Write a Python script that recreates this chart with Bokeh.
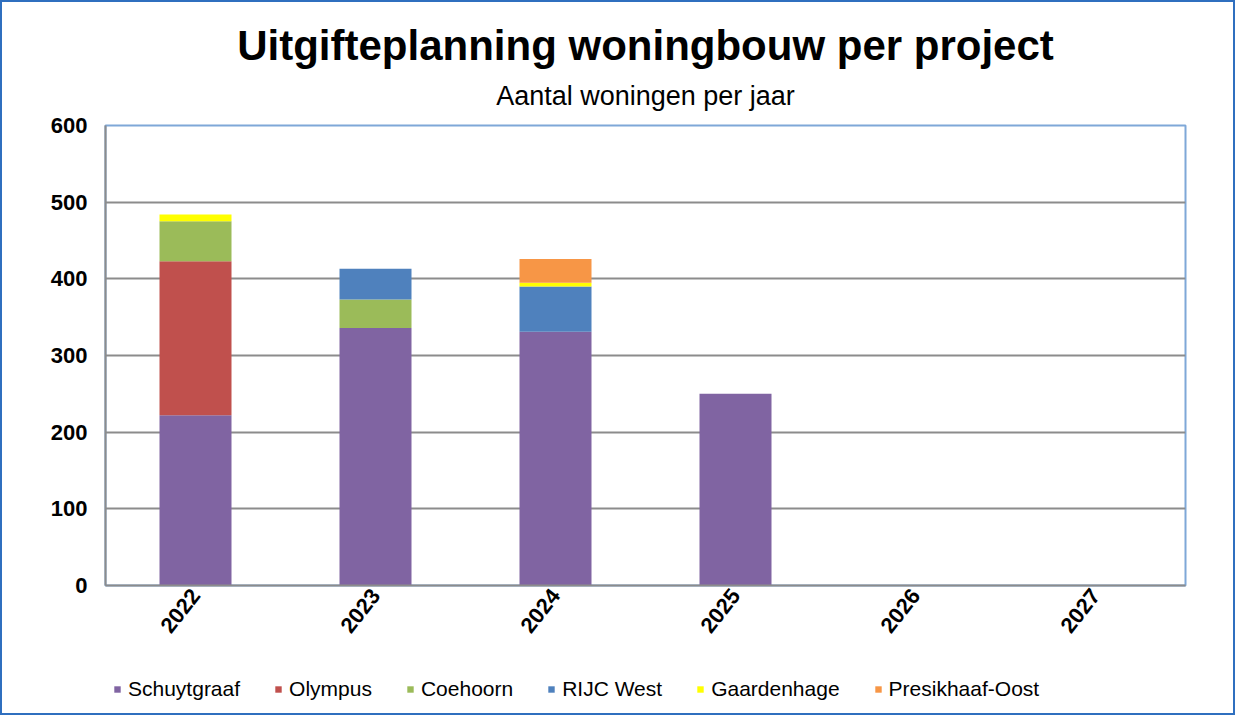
from bokeh.plotting import figure
from bokeh.models import FactorRange, Range1d, FixedTicker, Legend, Title, ColumnDataSource
from bokeh.layouts import column
from bokeh.embed import file_html
from bokeh.resources import INLINE

years = ["2022", "2023", "2024", "2025", "2026", "2027"]
projects = ["Schuytgraaf", "Olympus", "Coehoorn", "RIJC West", "Gaardenhage", "Presikhaaf-Oost"]
schuytgraaf = [222, 336, 331, 250, 0, 0]
olympus = [201, 0, 0, 0, 0, 0]
coehoorn = [52, 37, 0, 0, 0, 0]
rijc_west = [0, 40, 59, 0, 0, 0]
gaardenhage = [9, 0, 5, 0, 0, 0]
presikhaaf_oost = [0, 0, 31, 0, 0, 0]
colors = ["#8064A2", "#C0504D", "#9BBB59", "#4F81BD", "#FFFF00", "#F79646"]
y_ticks = [0, 100, 200, 300, 400, 500, 600]

FONT = "Liberation Sans"

source = ColumnDataSource(dict(
    years=years,
    Schuytgraaf=schuytgraaf,
    Olympus=olympus,
    Coehoorn=coehoorn,
    **{"RIJC West": rijc_west},
    Gaardenhage=gaardenhage,
    **{"Presikhaaf-Oost": presikhaaf_oost},
))

p = figure(
    x_range=FactorRange(*years, range_padding=0),
    y_range=Range1d(0, 600),
    frame_width=1080, frame_height=460,
    min_border_left=103, min_border_right=48, min_border_top=123, min_border_bottom=70,
    output_backend="svg", toolbar_location=None,
)
p.title = None

renderers = p.vbar_stack(projects, x="years", width=0.4, source=source,
                         color=colors, line_color=None)

sub = Title(text="Aantal woningen per jaar", align="center", text_font=FONT,
            text_font_size="27px", text_font_style="normal", text_color="#000000",
            standoff=30)
main = Title(text="Uitgifteplanning woningbouw per project", align="center", text_font=FONT,
             text_font_size="42px", text_font_style="bold", text_color="#000000",
             standoff=-10)
p.add_layout(sub, "above")
p.add_layout(main, "above")

# axes
p.yaxis.ticker = FixedTicker(ticks=y_ticks)
p.yaxis.major_label_text_font = FONT
p.yaxis.major_label_text_font_style = "bold"
p.yaxis.major_label_text_font_size = "22px"
p.yaxis.major_label_text_color = "#000000"
p.yaxis.major_tick_out = 0
p.yaxis.major_tick_in = 0
p.yaxis.minor_tick_out = 0
p.yaxis.minor_tick_in = 0
p.yaxis.major_label_standoff = 18
p.yaxis.axis_line_color = "#8c8c8c"
p.yaxis.axis_line_width = 2

p.xaxis.major_label_text_font = FONT
p.xaxis.major_label_text_font_style = "bold"
p.xaxis.major_label_text_font_size = "22px"
p.xaxis.major_label_text_color = "#000000"
p.xaxis.major_label_orientation = 0.9
p.xaxis.major_tick_out = 0
p.xaxis.major_tick_in = 0
p.xaxis.major_label_standoff = 6
p.xaxis.axis_line_color = "#8c8c8c"
p.xaxis.axis_line_width = 2

p.xgrid.grid_line_color = None
p.ygrid.grid_line_color = "#8c8c8c"
p.ygrid.grid_line_width = 2

p.outline_line_color = "#7fa8d8"
p.outline_line_width = 2

# legend strip (second figure below the chart); its y range lies above all bars,
# so its stacked bars stay out of view and only the legend is shown
pl = figure(width=1231, height=58,
            x_range=FactorRange(*years, range_padding=0), y_range=Range1d(1000, 1001),
            x_axis_location=None, y_axis_location=None,
            min_border=0, output_backend="svg", toolbar_location=None)
pl.grid.visible = False
pl.outline_line_color = None
legend_renderers = pl.vbar_stack(projects, x="years", width=0.4, source=source,
                                 color=colors, line_color=None)

legend = Legend(
    items=[(name, [r]) for name, r in zip(projects, legend_renderers)],
    orientation="horizontal",
    location=(8, 12),
    label_text_font=FONT,
    label_text_font_size="21px",
    label_text_color="#000000",
    glyph_width=8, glyph_height=8,
    label_standoff=7, spacing=34,
    padding=0, margin=0,
    border_line_color=None,
    background_fill_alpha=0,
)
pl.add_layout(legend, "center")

layout = column(p, pl, spacing=0)
layout.styles = {"border": "2px solid #2f6fbf", "background-color": "white"}

open("out.html", "w").write(file_html(layout, INLINE))
